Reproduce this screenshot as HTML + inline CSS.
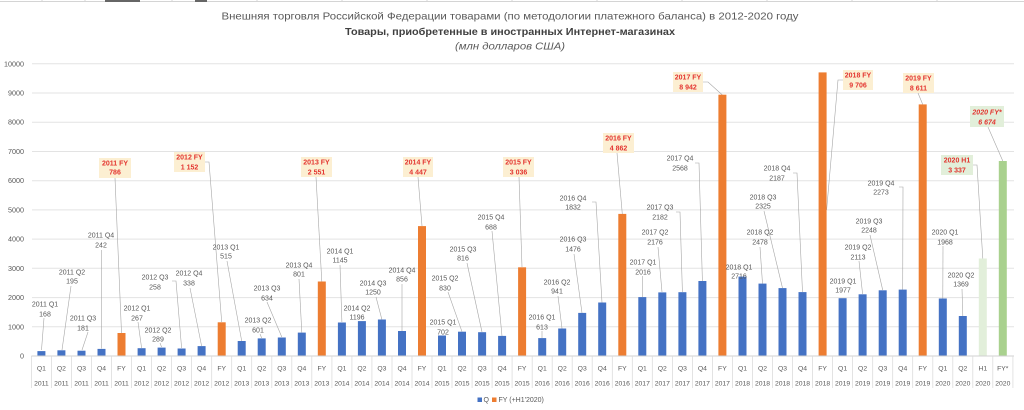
<!DOCTYPE html>
<html><head><meta charset="utf-8">
<style>
html,body{margin:0;padding:0;background:#fff;}
svg{display:block;}
.l{font-family:"Liberation Sans",sans-serif;font-size:7px;fill:#595959;text-anchor:middle;}
.f{font-family:"Liberation Sans",sans-serif;font-size:7px;font-weight:bold;fill:#e3342f;text-anchor:middle;}
.fi{font-style:italic;}
.ax{font-family:"Liberation Sans",sans-serif;font-size:6.8px;fill:#595959;text-anchor:middle;}
.yl{font-family:"Liberation Sans",sans-serif;font-size:7.2px;fill:#595959;text-anchor:end;}
.ld{stroke:#a6a6a6;stroke-width:0.6;fill:none;}
</style></head>
<body>
<svg width="1024" height="410" viewBox="0 0 1024 410" xmlns="http://www.w3.org/2000/svg">
<rect width="1024" height="410" fill="#fff"/>
<!-- top spreadsheet strip -->
<line x1="0" y1="1.5" x2="1024" y2="1.5" stroke="#d4d4d4" stroke-width="1"/>
<g stroke="#d4d4d4" stroke-width="1">
<line x1="42" y1="0" x2="42" y2="2"/><line x1="85" y1="0" x2="85" y2="2"/><line x1="172" y1="0" x2="172" y2="2"/><line x1="257" y1="0" x2="257" y2="2"/><line x1="342" y1="0" x2="342" y2="2"/><line x1="427" y1="0" x2="427" y2="2"/><line x1="512" y1="0" x2="512" y2="2"/><line x1="597" y1="0" x2="597" y2="2"/><line x1="682" y1="0" x2="682" y2="2"/><line x1="767" y1="0" x2="767" y2="2"/><line x1="852" y1="0" x2="852" y2="2"/><line x1="937" y1="0" x2="937" y2="2"/>
</g>
<rect x="105" y="0" width="35" height="2" fill="#666"/>
<rect x="195" y="0" width="12" height="2" fill="#666"/>

<!-- titles -->
<text x="510" y="19.5" text-anchor="middle" textLength="577" lengthAdjust="spacingAndGlyphs" style="font-family:'Liberation Sans',sans-serif;font-size:10.5px;fill:#595959;">Внешняя торговля Российской Федерации товарами (по методологии платежного баланса) в 2012-2020 году</text>
<text x="510" y="35" text-anchor="middle" textLength="330" lengthAdjust="spacingAndGlyphs" style="font-family:'Liberation Sans',sans-serif;font-size:10.5px;font-weight:bold;fill:#404040;">Товары, приобретенные в иностранных Интернет-магазинах</text>
<text x="510" y="49.5" text-anchor="middle" textLength="110" lengthAdjust="spacingAndGlyphs" style="font-family:'Liberation Sans',sans-serif;font-size:10.5px;font-style:italic;fill:#595959;">(млн долларов США)</text>

<!-- gridlines -->
<g stroke="#e3e3e3" stroke-width="1">
<line x1="32" y1="63.8" x2="1014" y2="63.8"/>
<line x1="32" y1="93" x2="1014" y2="93"/>
<line x1="32" y1="122.2" x2="1014" y2="122.2"/>
<line x1="32" y1="151.5" x2="1014" y2="151.5"/>
<line x1="32" y1="180.7" x2="1014" y2="180.7"/>
<line x1="32" y1="209.9" x2="1014" y2="209.9"/>
<line x1="32" y1="239.1" x2="1014" y2="239.1"/>
<line x1="32" y1="268.3" x2="1014" y2="268.3"/>
<line x1="32" y1="297.6" x2="1014" y2="297.6"/>
<line x1="32" y1="326.8" x2="1014" y2="326.8"/>
</g>
<!-- y labels -->
<text class="yl" x="24" y="66.3">10000</text>
<text class="yl" x="24" y="95.5">9000</text>
<text class="yl" x="24" y="124.7">8000</text>
<text class="yl" x="24" y="154">7000</text>
<text class="yl" x="24" y="183.2">6000</text>
<text class="yl" x="24" y="212.4">5000</text>
<text class="yl" x="24" y="241.6">4000</text>
<text class="yl" x="24" y="270.8">3000</text>
<text class="yl" x="24" y="300.1">2000</text>
<text class="yl" x="24" y="329.3">1000</text>
<text class="yl" x="24" y="358.5">0</text>

<!-- leader lines -->
<g class="ld">
<polyline points="44,318 41.5,350"/>
<polyline points="71,286 62,350"/>
<polyline points="88,332 82,350"/>
<polyline points="101.5,250 101.5,348.5"/>
<polyline points="138,322 141.6,348"/>
<polyline points="160,343 161.6,347"/>
<polyline points="172,281 176,281 181.6,348"/>
<polyline points="190,288 201.6,346"/>
<polyline points="227,261 241.7,341"/>
<polyline points="260,334 261.7,338"/>
<polyline points="267,302 281.8,337"/>
<polyline points="299,279 301.8,332.5"/>
<polyline points="340,265 341.9,322"/>
<polyline points="376,297 381.9,319.5"/>
<polyline points="402,284 402,331"/>
<polyline points="448,292 462,331.7"/>
<polyline points="467,263 482,332"/>
<polyline points="492,231 502,336"/>
<polyline points="542,331 542,338"/>
<polyline points="558,296 562,328.5"/>
<polyline points="574,254 582,313"/>
<polyline points="592,202 596,202 602,302.5"/>
<polyline points="642.3,276 642.3,297"/>
<polyline points="658,247 662,292"/>
<polyline points="676,212 680,212 682.4,292"/>
<polyline points="695,163 699,163 702.4,281"/>
<polyline points="760,247 762.5,283.6"/>
<polyline points="764,211 782.5,288"/>
<polyline points="793,173 797,173 802.5,292"/>
<polyline points="859,261 862.6,294"/>
<polyline points="870,235 882.7,290"/>
<polyline points="899,187 903,187 902.7,289.6"/>
<polyline points="943,246 942.8,298.5"/>
<polyline points="962,289 962.8,316"/>
<!-- FY leaders -->
<polyline points="115,178 121.5,333"/>
<polyline points="205,162 209,162 221.7,322"/>
<polyline points="316,177 321.8,281.5"/>
<polyline points="418,177 422,226"/>
<polyline points="519,177 522,267"/>
<polyline points="617,153 622.3,214"/>
<polyline points="703,82 708,82 722.4,95"/>
<polyline points="843,80 838,80 826.6,210"/>
<polyline points="918,93 922.7,104.4"/>
<polyline points="973,165 977,165 982.8,258.5"/>
<polyline points="988,127 1002.8,161"/>
</g>

<!-- bars -->
<g fill="#4472c4">
<rect x="37.4" y="351.1" width="8" height="4.9"/>
<rect x="57.4" y="350.3" width="8" height="5.7"/>
<rect x="77.5" y="350.7" width="8" height="5.3"/>
<rect x="97.5" y="348.9" width="8" height="7.1"/>
<rect x="137.6" y="348.2" width="8" height="7.8"/>
<rect x="157.6" y="347.6" width="8" height="8.4"/>
<rect x="177.6" y="348.5" width="8" height="7.5"/>
<rect x="197.6" y="346.1" width="8" height="9.9"/>
<rect x="237.7" y="341" width="8" height="15"/>
<rect x="257.7" y="338.4" width="8" height="17.6"/>
<rect x="277.8" y="337.5" width="8" height="18.5"/>
<rect x="297.8" y="332.6" width="8" height="23.4"/>
<rect x="337.9" y="322.5" width="8" height="33.5"/>
<rect x="357.9" y="321.1" width="8" height="34.9"/>
<rect x="377.9" y="319.5" width="8" height="36.5"/>
<rect x="398" y="331" width="8" height="25"/>
<rect x="438" y="335.5" width="8" height="20.5"/>
<rect x="458" y="331.7" width="8" height="24.3"/>
<rect x="478.1" y="332.2" width="8" height="23.8"/>
<rect x="498.1" y="335.9" width="8" height="20.1"/>
<rect x="538.2" y="338.1" width="8" height="17.9"/>
<rect x="558.2" y="328.5" width="8" height="27.5"/>
<rect x="578.2" y="312.9" width="8" height="43.1"/>
<rect x="598.2" y="302.5" width="8" height="53.5"/>
<rect x="638.3" y="297.1" width="8" height="58.9"/>
<rect x="658.3" y="292.4" width="8" height="63.6"/>
<rect x="678.4" y="292.2" width="8" height="63.8"/>
<rect x="698.4" y="281" width="8" height="75"/>
<rect x="738.5" y="276.6" width="8" height="79.4"/>
<rect x="758.5" y="283.6" width="8" height="72.4"/>
<rect x="778.5" y="288.1" width="8" height="67.9"/>
<rect x="798.5" y="292.1" width="8" height="63.9"/>
<rect x="838.6" y="298.2" width="8" height="57.8"/>
<rect x="858.6" y="294.3" width="8" height="61.7"/>
<rect x="878.7" y="290.3" width="8" height="65.7"/>
<rect x="898.7" y="289.6" width="8" height="66.4"/>
<rect x="938.8" y="298.5" width="8" height="57.5"/>
<rect x="958.8" y="316" width="8" height="40"/>
</g>
<g fill="#ed7d31">
<rect x="117.5" y="333" width="8" height="23"/>
<rect x="217.7" y="322.3" width="8" height="33.7"/>
<rect x="317.8" y="281.5" width="8" height="74.5"/>
<rect x="418" y="226.1" width="8" height="129.9"/>
<rect x="518.1" y="267.3" width="8" height="88.7"/>
<rect x="618.3" y="213.9" width="8" height="142.1"/>
<rect x="718.4" y="94.7" width="8" height="261.3"/>
<rect x="818.6" y="72.4" width="8" height="283.6"/>
<rect x="918.7" y="104.4" width="8" height="251.6"/>
</g>
<rect x="978.8" y="258.5" width="8" height="97.5" fill="#e2efda"/>
<rect x="998.8" y="161" width="8" height="195" fill="#a9d18e"/>

<!-- axis -->
<line x1="31.4" y1="356" x2="1014" y2="356" stroke="#d0d0d0" stroke-width="1"/>
<g stroke="#dcdcdc" stroke-width="0.8">
<line x1="31.4" y1="356" x2="31.4" y2="388"/><line x1="51.4" y1="356" x2="51.4" y2="388"/><line x1="71.5" y1="356" x2="71.5" y2="388"/><line x1="91.5" y1="356" x2="91.5" y2="388"/><line x1="111.5" y1="356" x2="111.5" y2="388"/><line x1="131.6" y1="356" x2="131.6" y2="388"/><line x1="151.6" y1="356" x2="151.6" y2="388"/><line x1="171.6" y1="356" x2="171.6" y2="388"/><line x1="191.6" y1="356" x2="191.6" y2="388"/><line x1="211.7" y1="356" x2="211.7" y2="388"/><line x1="231.7" y1="356" x2="231.7" y2="388"/><line x1="251.7" y1="356" x2="251.7" y2="388"/><line x1="271.8" y1="356" x2="271.8" y2="388"/><line x1="291.8" y1="356" x2="291.8" y2="388"/><line x1="311.8" y1="356" x2="311.8" y2="388"/><line x1="331.9" y1="356" x2="331.9" y2="388"/><line x1="351.9" y1="356" x2="351.9" y2="388"/><line x1="371.9" y1="356" x2="371.9" y2="388"/><line x1="392" y1="356" x2="392" y2="388"/><line x1="412" y1="356" x2="412" y2="388"/><line x1="432" y1="356" x2="432" y2="388"/><line x1="452" y1="356" x2="452" y2="388"/><line x1="472.1" y1="356" x2="472.1" y2="388"/><line x1="492.1" y1="356" x2="492.1" y2="388"/><line x1="512.1" y1="356" x2="512.1" y2="388"/><line x1="532.2" y1="356" x2="532.2" y2="388"/><line x1="552.2" y1="356" x2="552.2" y2="388"/><line x1="572.2" y1="356" x2="572.2" y2="388"/><line x1="592.2" y1="356" x2="592.2" y2="388"/><line x1="612.3" y1="356" x2="612.3" y2="388"/><line x1="632.3" y1="356" x2="632.3" y2="388"/><line x1="652.3" y1="356" x2="652.3" y2="388"/><line x1="672.4" y1="356" x2="672.4" y2="388"/><line x1="692.4" y1="356" x2="692.4" y2="388"/><line x1="712.4" y1="356" x2="712.4" y2="388"/><line x1="732.5" y1="356" x2="732.5" y2="388"/><line x1="752.5" y1="356" x2="752.5" y2="388"/><line x1="772.5" y1="356" x2="772.5" y2="388"/><line x1="792.5" y1="356" x2="792.5" y2="388"/><line x1="812.6" y1="356" x2="812.6" y2="388"/><line x1="832.6" y1="356" x2="832.6" y2="388"/><line x1="852.6" y1="356" x2="852.6" y2="388"/><line x1="872.7" y1="356" x2="872.7" y2="388"/><line x1="892.7" y1="356" x2="892.7" y2="388"/><line x1="912.7" y1="356" x2="912.7" y2="388"/><line x1="932.8" y1="356" x2="932.8" y2="388"/><line x1="952.8" y1="356" x2="952.8" y2="388"/><line x1="972.8" y1="356" x2="972.8" y2="388"/><line x1="992.8" y1="356" x2="992.8" y2="388"/><line x1="1012.9" y1="356" x2="1012.9" y2="388"/>
</g>
<g class="ax">
<text x="41.4" y="370.4">Q1</text><text x="61.4" y="370.4">Q2</text><text x="81.5" y="370.4">Q3</text><text x="101.5" y="370.4">Q4</text><text x="121.5" y="370.4">FY</text>
<text x="141.6" y="370.4">Q1</text><text x="161.6" y="370.4">Q2</text><text x="181.6" y="370.4">Q3</text><text x="201.6" y="370.4">Q4</text><text x="221.7" y="370.4">FY</text>
<text x="241.7" y="370.4">Q1</text><text x="261.7" y="370.4">Q2</text><text x="281.8" y="370.4">Q3</text><text x="301.8" y="370.4">Q4</text><text x="321.8" y="370.4">FY</text>
<text x="341.9" y="370.4">Q1</text><text x="361.9" y="370.4">Q2</text><text x="381.9" y="370.4">Q3</text><text x="402" y="370.4">Q4</text><text x="422" y="370.4">FY</text>
<text x="442" y="370.4">Q1</text><text x="462" y="370.4">Q2</text><text x="482.1" y="370.4">Q3</text><text x="502.1" y="370.4">Q4</text><text x="522.1" y="370.4">FY</text>
<text x="542.2" y="370.4">Q1</text><text x="562.2" y="370.4">Q2</text><text x="582.2" y="370.4">Q3</text><text x="602.2" y="370.4">Q4</text><text x="622.3" y="370.4">FY</text>
<text x="642.3" y="370.4">Q1</text><text x="662.3" y="370.4">Q2</text><text x="682.4" y="370.4">Q3</text><text x="702.4" y="370.4">Q4</text><text x="722.4" y="370.4">FY</text>
<text x="742.5" y="370.4">Q1</text><text x="762.5" y="370.4">Q2</text><text x="782.5" y="370.4">Q3</text><text x="802.5" y="370.4">Q4</text><text x="822.6" y="370.4">FY</text>
<text x="842.6" y="370.4">Q1</text><text x="862.6" y="370.4">Q2</text><text x="882.7" y="370.4">Q3</text><text x="902.7" y="370.4">Q4</text><text x="922.7" y="370.4">FY</text>
<text x="942.8" y="370.4">Q1</text><text x="962.8" y="370.4">Q2</text><text x="982.8" y="370.4">H1</text><text x="1002.8" y="370.4">FY*</text>

<text x="41.4" y="385.4">2011</text><text x="61.4" y="385.4">2011</text><text x="81.5" y="385.4">2011</text><text x="101.5" y="385.4">2011</text><text x="121.5" y="385.4">2011</text>
<text x="141.6" y="385.4">2012</text><text x="161.6" y="385.4">2012</text><text x="181.6" y="385.4">2012</text><text x="201.6" y="385.4">2012</text><text x="221.7" y="385.4">2012</text>
<text x="241.7" y="385.4">2013</text><text x="261.7" y="385.4">2013</text><text x="281.8" y="385.4">2013</text><text x="301.8" y="385.4">2013</text><text x="321.8" y="385.4">2013</text>
<text x="341.9" y="385.4">2014</text><text x="361.9" y="385.4">2014</text><text x="381.9" y="385.4">2014</text><text x="402" y="385.4">2014</text><text x="422" y="385.4">2014</text>
<text x="442" y="385.4">2015</text><text x="462" y="385.4">2015</text><text x="482.1" y="385.4">2015</text><text x="502.1" y="385.4">2015</text><text x="522.1" y="385.4">2015</text>
<text x="542.2" y="385.4">2016</text><text x="562.2" y="385.4">2016</text><text x="582.2" y="385.4">2016</text><text x="602.2" y="385.4">2016</text><text x="622.3" y="385.4">2016</text>
<text x="642.3" y="385.4">2017</text><text x="662.3" y="385.4">2017</text><text x="682.4" y="385.4">2017</text><text x="702.4" y="385.4">2017</text><text x="722.4" y="385.4">2017</text>
<text x="742.5" y="385.4">2018</text><text x="762.5" y="385.4">2018</text><text x="782.5" y="385.4">2018</text><text x="802.5" y="385.4">2018</text><text x="822.6" y="385.4">2018</text>
<text x="842.6" y="385.4">2019</text><text x="862.6" y="385.4">2019</text><text x="882.7" y="385.4">2019</text><text x="902.7" y="385.4">2019</text><text x="922.7" y="385.4">2019</text>
<text x="942.8" y="385.4">2020</text><text x="962.8" y="385.4">2020</text><text x="982.8" y="385.4">2020</text><text x="1002.8" y="385.4">2020</text>
</g>

<!-- quarterly data labels -->
<g class="l">
<text x="45" y="306.5">2011 Q1</text><text x="45" y="316.5">168</text>
<text x="72" y="274.5">2011 Q2</text><text x="72" y="283.5">195</text>
<text x="83" y="320.5">2011 Q3</text><text x="83" y="330.5">181</text>
<text x="101" y="237.5">2011 Q4</text><text x="101" y="247.5">242</text>
<text x="137" y="310.5">2012 Q1</text><text x="137" y="320.5">267</text>
<text x="158" y="332.5">2012 Q2</text><text x="158" y="341.5">289</text>
<text x="155" y="279.5">2012 Q3</text><text x="155" y="289.5">258</text>
<text x="189" y="275.5">2012 Q4</text><text x="189" y="285.5">338</text>
<text x="226" y="249.5">2013 Q1</text><text x="226" y="258.5">515</text>
<text x="258" y="322.5">2013 Q2</text><text x="258" y="332.5">601</text>
<text x="267" y="290.5">2013 Q3</text><text x="267" y="300.5">634</text>
<text x="299" y="267.5">2013 Q4</text><text x="299" y="276.5">801</text>
<text x="340" y="253.5">2014 Q1</text><text x="340" y="262.5">1145</text>
<text x="357" y="310.5">2014 Q2</text><text x="357" y="319.5">1196</text>
<text x="373" y="285.5">2014 Q3</text><text x="373" y="294.5">1250</text>
<text x="402" y="272.5">2014 Q4</text><text x="402" y="281.5">856</text>
<text x="443" y="324.5">2015 Q1</text><text x="443" y="334.5">702</text>
<text x="445" y="280.5">2015 Q2</text><text x="445" y="290.5">830</text>
<text x="463" y="251.5">2015 Q3</text><text x="463" y="260.5">816</text>
<text x="491" y="219.5">2015 Q4</text><text x="491" y="229.5">688</text>
<text x="542" y="319.5">2016 Q1</text><text x="542" y="329.5">613</text>
<text x="557" y="284.5">2016 Q2</text><text x="557" y="293.5">941</text>
<text x="573" y="241.5">2016 Q3</text><text x="573" y="251.5">1476</text>
<text x="573" y="200.5">2016 Q4</text><text x="573" y="209.5">1832</text>
<text x="643" y="264.5">2017 Q1</text><text x="643" y="274.5">2016</text>
<text x="655" y="234.5">2017 Q2</text><text x="655" y="244.5">2176</text>
<text x="660" y="209.5">2017 Q3</text><text x="660" y="219.5">2182</text>
<text x="680" y="160.5">2017 Q4</text><text x="680" y="170.5">2568</text>
<text x="739" y="269.5">2018 Q1</text><text x="739" y="278.5">2716</text>
<text x="760" y="234.5">2018 Q2</text><text x="760" y="244.5">2478</text>
<text x="763" y="199.5">2018 Q3</text><text x="763" y="208.5">2325</text>
<text x="777" y="170.5">2018 Q4</text><text x="777" y="180.5">2187</text>
<text x="843" y="283.5">2019 Q1</text><text x="843" y="292.5">1977</text>
<text x="858" y="249.5">2019 Q2</text><text x="858" y="259.5">2113</text>
<text x="869" y="223.5">2019 Q3</text><text x="869" y="232.5">2248</text>
<text x="881" y="185.5">2019 Q4</text><text x="881" y="194.5">2273</text>
<text x="945" y="234.5">2020 Q1</text><text x="945" y="244.5">1968</text>
<text x="961" y="277.5">2020 Q2</text><text x="961" y="286.5">1369</text>
</g>

<!-- FY label boxes -->
<g fill="#fcefd2">
<rect x="99" y="158" width="32" height="20"/>
<rect x="174" y="152" width="31" height="20"/>
<rect x="301" y="157" width="31" height="20"/>
<rect x="403" y="157" width="30" height="20"/>
<rect x="503" y="157" width="31" height="20"/>
<rect x="603" y="133" width="31" height="20"/>
<rect x="673" y="72" width="30" height="20"/>
<rect x="843" y="70" width="30" height="20"/>
<rect x="903" y="73" width="31" height="20"/>
</g>
<g fill="#e2efda">
<rect x="941" y="155" width="32" height="20"/>
<rect x="970" y="106" width="34" height="21"/>
</g>
<g class="f">
<text x="115" y="165.5">2011 FY</text><text x="115" y="174.5">786</text>
<text x="189.5" y="159.5">2012 FY</text><text x="189.5" y="169.5">1 152</text>
<text x="316.5" y="164.5">2013 FY</text><text x="316.5" y="174.5">2 551</text>
<text x="418" y="164.5">2014 FY</text><text x="418" y="174.5">4 447</text>
<text x="518.5" y="164.5">2015 FY</text><text x="518.5" y="174.5">3 036</text>
<text x="618.5" y="140.5">2016 FY</text><text x="618.5" y="150.5">4 862</text>
<text x="688" y="79.5">2017 FY</text><text x="688" y="89.5">8 942</text>
<text x="858" y="77.5">2018 FY</text><text x="858" y="87.5">9 706</text>
<text x="918.5" y="80.5">2019 FY</text><text x="918.5" y="90.5">8 611</text>
<text x="957" y="162.5">2020 H1</text><text x="957" y="172.5">3 337</text>
<text class="f fi" x="987" y="114.5">2020 FY*</text><text class="f fi" x="987" y="124.5">6 674</text>
</g>

<!-- legend -->
<rect x="477.5" y="397.5" width="4.5" height="4.5" fill="#4472c4"/>
<text x="483.5" y="402" style="font-family:'Liberation Sans',sans-serif;font-size:7px;fill:#595959;">Q</text>
<rect x="492" y="397.5" width="4.5" height="4.5" fill="#ed7d31"/>
<text x="498.5" y="402" style="font-family:'Liberation Sans',sans-serif;font-size:7px;fill:#595959;">FY (+H1'2020)</text>
</svg>
</body></html>
